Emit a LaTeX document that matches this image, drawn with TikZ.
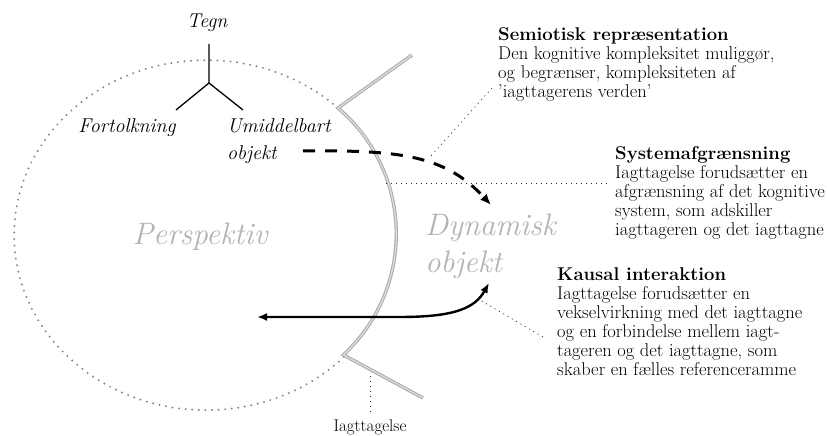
\documentclass[tikz,border=0pt]{standalone}
\usepackage{fontspec}
\usetikzlibrary{arrows.meta}
\begin{document}
\begin{tikzpicture}[x=1pt,y=1pt,
  boundary/.style={draw=gray!65, line width=3.4pt, line join=miter},
  boundaryin/.style={draw=gray!25, line width=1.2pt, line join=miter},
  horizon/.style={draw=gray!95, line width=2.2pt, line cap=round, dash pattern=on 0pt off 6.6pt},
  leader/.style={draw=black!85, line width=0.6pt, dash pattern=on 1.2pt off 3.8pt},
  tree/.style={draw=black, line width=1.3pt},
  lab/.style={font=\fontsize{20}{27}\selectfont\itshape, inner sep=0pt, align=left},
  big/.style={font=\fontsize{31}{37}\selectfont\itshape, text=gray!60, inner sep=0pt, align=left},
  note/.style={font=\fontsize{18.5}{19}\selectfont, align=left, anchor=north west, inner sep=0pt},
  small/.style={font=\fontsize{17}{19}\selectfont, inner sep=0pt}
]
\useasboundingbox (0,0) rectangle (827,436);

% dotted perspective ellipse
\draw[horizon] (338,328) arc[start angle=46.6, end angle=316.2, x radius=192, y radius=175];

% gray observation boundary
\draw[boundary] (412,381) -- (338,328) arc[start angle=49.7, end angle=-47.2, radius=165] -- (423,38);
\draw[boundaryin] (412,381) -- (338,328) arc[start angle=49.7, end angle=-47.2, radius=165] -- (423,38);

% sign triad
\node[lab] (tegn) at (207,413) {Tegn};
\coordinate (tTop) at (209,392);
\coordinate (jn) at (209,353);
\coordinate (tL) at (176,326);
\coordinate (tR) at (243,326);
\draw[tree] (tTop) -- (jn) -- (tL);
\draw[tree] (jn) -- (tR);
\node[lab] (fort) at (127,308) {Fortolkning};
\node[lab, anchor=west] (umid) at (227,294.5) {Umiddelbart\\objekt};

% big labels
\node[big] (persp) at (200,199) {Perspektiv};
\node[big, anchor=west] (dyn) at (425,190) {Dynamisk\\objekt};

% dashed arrow
\coordinate (dA) at (303,285);
\coordinate (dB) at (491,231);
\draw[line width=3pt, dash pattern=on 12pt off 10pt, -{Latex[length=11pt,width=9pt]}]
  (dA) .. controls (400,286) and (445,281) .. (dB);

% solid interaction arrow
\coordinate (sL) at (257,119);
\coordinate (sM) at (400,119);
\coordinate (sR) at (489,153);
\draw[line width=2.4pt, {Latex[length=10pt,width=8pt]}-{Latex[length=10pt,width=8pt]}]
  (sL) -- (sM) .. controls (455,119) and (475,128) .. (sR);

% notes
\node[note] (semi) at (498,409) {\textbf{Semiotisk repræsentation}\\Den kognitive kompleksitet muliggør,\\og begrænser, kompleksiteten af\\’iagttagerens verden’};
\node[note] (sys) at (615,290) {\textbf{Systemafgrænsning}\\Iagttagelse forudsætter en\\afgrænsning af det kognitive\\system, som adskiller\\iagttageren og det iagttagne};
\node[note] (kaus) at (557,169) {\textbf{Kausal interaktion}\\Iagttagelse forudsætter en\\vekselvirkning med det iagttagne\\og en forbindelse mellem iagt-\\tageren og det iagttagne, som\\skaber en fælles referenceramme};
\node[small] (iagt) at (370,9) {Iagttagelse};

% leader lines
\coordinate (l1a) at (492,348);
\coordinate (l1b) at (430,279);
\draw[leader] (l1a) -- (l1b);
\coordinate (l2a) at (607,253);
\coordinate (l2b) at (383,253);
\draw[leader] (l2a) -- (l2b);
\coordinate (l3a) at (543,99);
\coordinate (l3b) at (480,136);
\draw[leader] (l3a) -- (l3b);
\coordinate (l4a) at (370,24);
\coordinate (l4b) at (370,64);
\draw[leader] (l4a) -- (l4b);
\end{tikzpicture}
\end{document}
